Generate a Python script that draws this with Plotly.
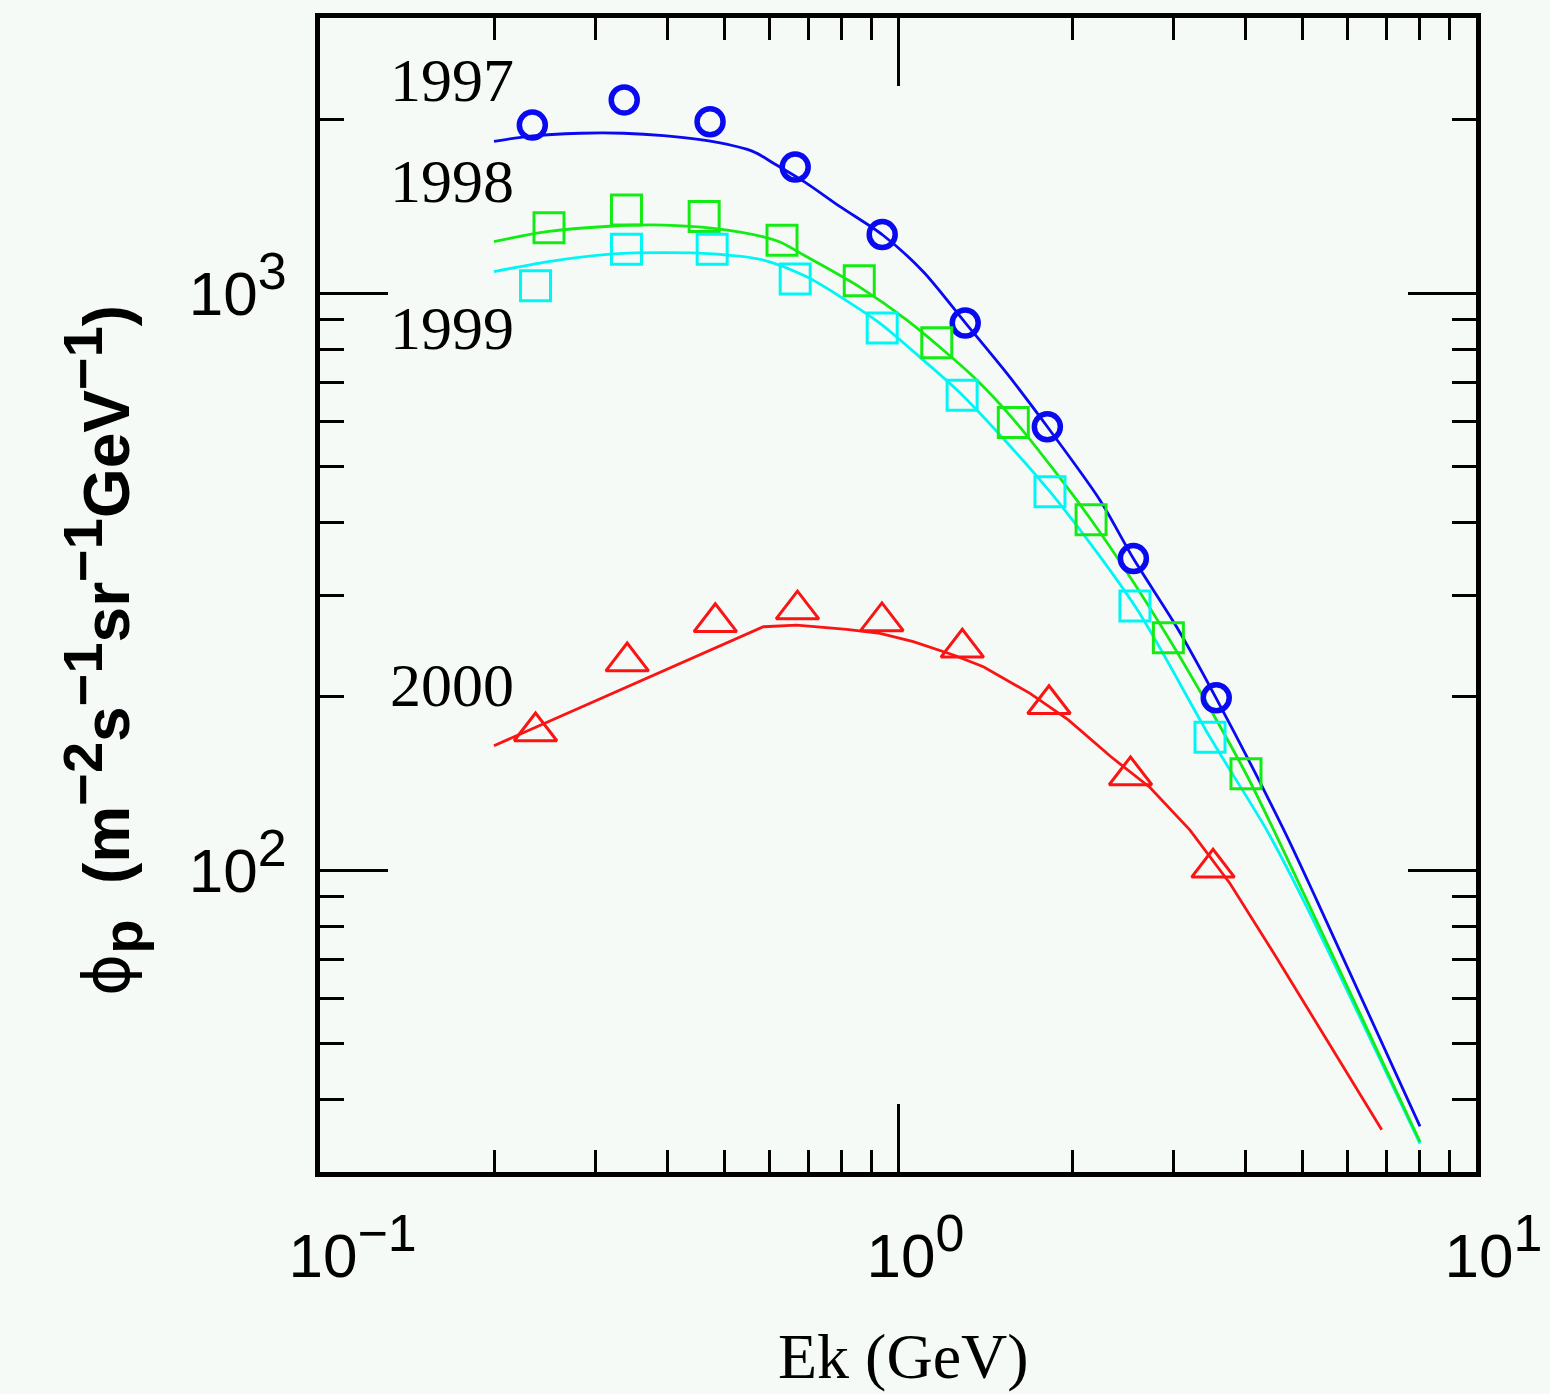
import plotly.graph_objects as go
import numpy as np

# ---------------- data ----------------
# measured proton fluxes
E_1997 = [0.233, 0.336, 0.473, 0.664, 0.939, 1.307, 1.813, 2.554, 3.553]
F_1997 = [1957, 2163, 1983, 1655, 1264, 888, 587, 347, 199]

E_1998 = [0.249, 0.339, 0.462, 0.630, 0.857, 1.167, 1.583, 2.158, 2.936, 4.0]
F_1998 = [1299, 1394, 1359, 1236, 1051, 821, 597, 405, 253, 147]

E_1999 = [0.236, 0.339, 0.477, 0.664, 0.939, 1.291, 1.832, 2.570, 3.466]
F_1999 = [1031, 1192, 1192, 1059, 871, 666, 453, 287, 170]

E_2000 = [0.236, 0.340, 0.483, 0.670, 0.938, 1.292, 1.825, 2.525, 3.508]
F_2000 = [174, 230, 269, 283, 270, 243, 194, 146, 101]

# model curves
M_E_1997 = [0.2, 0.231, 0.282, 0.335, 0.393, 0.479, 0.562, 0.609, 0.695, 0.794, 0.941,
            1.106, 1.31, 1.542, 1.813, 2.236, 2.554, 3.035, 3.549, 4.641, 5.301, 8.0]
M_F_1997 = [1833, 1873, 1894, 1894, 1876, 1831, 1760, 1680, 1551, 1413, 1262,
            1090, 887, 727, 587, 438, 347, 264, 199, 118, 88.8, 36.0]

M_E_1998 = [0.2, 0.247, 0.322, 0.393, 0.479, 0.585, 0.625, 0.695, 0.856, 1.035, 1.35,
            1.581, 2.158, 2.936, 4.0, 5.095, 8.0]
M_F_1998 = [1229, 1279, 1308, 1313, 1296, 1253, 1227, 1157, 1027, 899, 717,
            606, 405, 253, 147, 88.8, 33.85]

M_E_1999 = [0.2, 0.247, 0.322, 0.393, 0.479, 0.585, 0.695, 0.794, 0.931, 1.106, 1.294,
            1.832, 2.570, 3.466, 4.344, 5.026, 8.0]
M_F_1999 = [1090, 1134, 1170, 1176, 1170, 1142, 1068, 987, 887, 766, 665,
            453, 287, 170, 117.4, 88.8, 33.6]

M_E_2000 = [0.2, 0.344, 0.585, 0.668, 0.815, 0.931, 1.063, 1.247, 1.405, 1.692, 1.971,
            2.336, 2.729, 3.2, 3.753, 4.521, 5.589, 6.869]
M_F_2000 = [164.4, 209.0, 264.3, 266.1, 261.6, 257.4, 249.0, 236.1, 225.3, 202.6, 182.2,
            157.3, 139.2, 117.4, 94.9, 70.5, 49.8, 35.5]

year_labels = ["1997", "1998", "1999", "2000"]

x_major = [0.1, 1, 10]
x_major_exp = ["−1", "0", "1"]
y_major = [100, 1000]
y_major_exp = ["2", "3"]

x_minor = [m * d for d in (0.1, 1) for m in range(2, 10)]
y_minor = [m * d for d in (10, 100, 1000) for m in range(2, 10)]

# ---------------- styles ----------------
BG = "#f6faf6"
BLUE = "rgb(10,10,240)"
GREEN = "rgb(20,235,20)"
CYAN = "rgb(0,245,245)"
RED = "rgb(250,20,20)"
SUP = "<sup><span style='font-size:52px'>{}</span></sup>"
GHOST = "<sup><span style='font-size:52px;color:rgba(0,0,0,0)'>{}</span></sup>"

x_major_text = [GHOST.format(e) + "10" + SUP.format(e) for e in x_major_exp]
y_major_text = ["10" + SUP.format(e) for e in y_major_exp]

fig = go.Figure()

for ex, fy, col, shp in [(M_E_1999, M_F_1999, CYAN, "spline"),
                         (M_E_1998, M_F_1998, GREEN, "spline"),
                         (M_E_1997, M_F_1997, BLUE, "spline"),
                         (M_E_2000, M_F_2000, RED, "linear")]:
    fig.add_trace(go.Scatter(x=ex, y=fy, mode="lines",
                             line=dict(color=col, width=2.8, shape=shp, smoothing=0.8),
                             showlegend=False, hoverinfo="skip"))

fig.add_trace(go.Scatter(x=E_1997, y=F_1997, mode="markers", showlegend=False,
                         marker=dict(symbol="circle-open", size=26, color=BLUE,
                                     line=dict(width=5.5, color=BLUE))))
fig.add_trace(go.Scatter(x=E_1998, y=F_1998, mode="markers", showlegend=False,
                         marker=dict(symbol="square-open", size=30, color=GREEN,
                                     line=dict(width=3, color=GREEN))))
fig.add_trace(go.Scatter(x=E_1999, y=F_1999, mode="markers", showlegend=False,
                         marker=dict(symbol="square-open", size=30, color=CYAN,
                                     line=dict(width=3, color=CYAN))))
fig.add_trace(go.Scatter(x=E_2000, y=F_2000, mode="markers", showlegend=False,
                         marker=dict(symbol="triangle-up-open", size=37, color=RED,
                                     line=dict(width=3, color=RED))))

TICKFONT = dict(family="Liberation Sans, Arial, sans-serif", size=62, color="black")

fig.update_xaxes(type="log", range=[-1, 1], showline=True, linewidth=5, linecolor="black",
                 mirror="ticks", ticks="inside", ticklen=68, tickwidth=2.5, tickcolor="black",
                 tickmode="array", tickvals=x_major, ticktext=x_major_text,
                 tickfont=TICKFONT, ticklabelstandoff=26, ticklabelshift=3,
                 showgrid=False, zeroline=False, automargin=False,
                 minor=dict(tickmode="array", tickvals=x_minor, ticks="inside",
                            ticklen=22, tickwidth=3, tickcolor="black", showgrid=False))
fig.update_yaxes(type="log", range=[np.log10(30), np.log10(3000)], showline=True,
                 linewidth=5, linecolor="black",
                 mirror="ticks", ticks="inside", ticklen=68, tickwidth=2.5, tickcolor="black",
                 tickmode="array", tickvals=y_major, ticktext=y_major_text,
                 tickfont=TICKFONT, ticklabelstandoff=16,
                 showgrid=False, zeroline=False, automargin=False,
                 minor=dict(tickmode="array", tickvals=y_minor, ticks="inside",
                            ticklen=24, tickwidth=3, tickcolor="black", showgrid=False))

SERIF = dict(family="Liberation Serif, Times New Roman, serif", size=62, color="black")
label_pos = [(0.1142, 0.9463), (0.1142, 0.8588), (0.1142, 0.7314), (0.1142, 0.422)]
for txt, (px, py) in zip(year_labels, label_pos):
    fig.add_annotation(text=txt, xref="paper", yref="paper", x=px, y=py,
                       xanchor="center", yanchor="middle", showarrow=False, font=SERIF)

fig.add_annotation(text="Ek (GeV)", xref="paper", yref="paper", x=0.505, y=-0.1603,
                   xanchor="center", yanchor="middle", showarrow=False,
                   font=dict(family="Liberation Serif, Times New Roman, serif", size=64,
                             color="black"))

S = "<span style='font-size:56px'>{}</span>"
ytitle = ("<span style='font-family:DejaVu Sans'>ϕ</span><sub><b>" + S.format("p") + "</b></sub>"
          "\u00a0\u00a0<b>(m<sup>" + S.format("−2") + "</sup>s<sup>" + S.format("−1")
          + "</sup>sr<sup>" + S.format("−1") + "</sup>GeV<sup>" + S.format("−1")
          + "</sup>)</b>")
fig.add_annotation(text=ytitle, xref="paper", yref="paper", x=-0.1877, y=0.4515,
                   xanchor="center", yanchor="middle", showarrow=False, textangle=-90,
                   font=dict(family="Liberation Sans, Arial, sans-serif", size=64,
                             color="black"))

fig.update_layout(width=1550, height=1394,
                  margin=dict(l=320, r=74, t=18, b=222, pad=0),
                  paper_bgcolor=BG, plot_bgcolor=BG, showlegend=False)

fig.write_html("out.html", config={"displayModeBar": False},
               post_script="document.body.style.margin='0';"
                           "document.body.style.background='" + BG + "';")
